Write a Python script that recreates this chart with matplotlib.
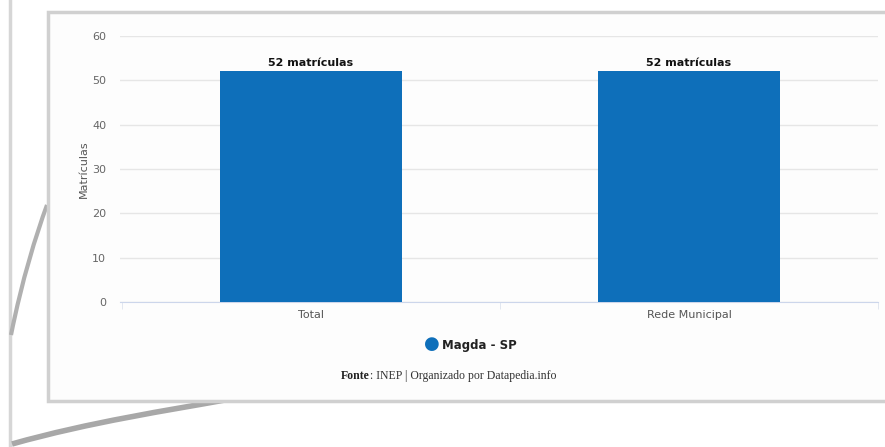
import numpy as np
import matplotlib.pyplot as plt
from matplotlib.patches import Rectangle, PathPatch
from matplotlib.path import Path

categories = ['Total', 'Rede Municipal']
valores = [52, 52]
rotulos = ['52 matrículas', '52 matrículas']
serie = 'Magda - SP'
yticks = [0, 10, 20, 30, 40, 50, 60]

W, H = 885, 447
fig = plt.figure(figsize=(W / 100, H / 100), dpi=100)
fig.patch.set_facecolor('white')


def fx(x):
    return x / W


def fy(y):
    return 1 - y / H


# page decoration: outer line, card border and curl shadow
fig.add_artist(plt.Line2D([fx(10), fx(10)], [fy(0), fy(445)], color='#d6d6d6', lw=2.5, zorder=-2))
verts = [(fx(11), fy(335)), (fx(22), fy(280)), (fx(36), fy(235)), (fx(47), fy(205))]
fig.add_artist(PathPatch(Path(verts, [1, 4, 4, 4]), fill=False, ec='#b0b0b0', lw=3, zorder=-2))
verts = [(fx(12), fy(444)), (fx(90), fy(422)), (fx(170), fy(410)), (fx(225), fy(400))]
fig.add_artist(PathPatch(Path(verts, [1, 4, 4, 4]), fill=False, ec='#a8a8a8', lw=4, zorder=-2))
fig.add_artist(Rectangle((fx(48), fy(401)), fx(900 - 48), fy(12) - fy(401),
                         fc='#fdfdfd', ec='#d0d0d0', lw=2.5, zorder=-1))

ax = fig.add_axes([fx(120), fy(302), fx(878 - 120), fy(36) - fy(302)])
ax.set_facecolor('none')
x = np.arange(len(categories))
bars = ax.bar(x, valores, width=0.48, color='#0e6fba', label=serie, zorder=3)
for b, t in zip(bars, rotulos):
    ax.text(b.get_x() + b.get_width() / 2, b.get_height() + 0.8, t,
            ha='center', va='bottom', fontsize=8, fontweight='bold', color='#111111')

ax.set_xlim(-0.505, 1.5)
ax.set_ylim(0, 60)
ax.set_yticks(yticks)
ax.set_xticks(x)
ax.set_xticklabels(categories)
ax.set_xticks([-0.5, 0.5, 1.5], minor=True)
ax.grid(axis='y', color='#e6e6e6', lw=1)
ax.set_axisbelow(True)
for s in ['top', 'right', 'left']:
    ax.spines[s].set_visible(False)
ax.spines['bottom'].set_color('#ccd6eb')
ax.tick_params(axis='y', length=0, labelsize=8, labelcolor='#666666', pad=10)
ax.tick_params(axis='x', length=0, labelsize=8, labelcolor='#555555', pad=6)
ax.tick_params(axis='x', which='minor', length=5, color='#dde3ee')
ax.set_ylabel('Matrículas', fontsize=8, color='#555555', labelpad=2)

fig.text(fx(432), fy(344), '\u25CF', fontsize=13, color='#0e6fba', ha='center', va='center')
fig.text(fx(442), fy(345), serie, fontsize=8.5, fontweight='bold', color='#222222',
         ha='left', va='center')
t1 = fig.text(fx(341), fy(376), 'Fonte', fontsize=8.5, fontweight='bold', family='Liberation Serif',
              color='#222222', ha='left', va='center')
fig.canvas.draw()
bb = t1.get_window_extent()
fig.text(bb.x1 / W, fy(376), ': INEP | Organizado por Datapedia.info', fontsize=8.5,
         family='Liberation Serif', color='#333333', ha='left', va='center')

fig.savefig('out.png', dpi=100, facecolor='white')
